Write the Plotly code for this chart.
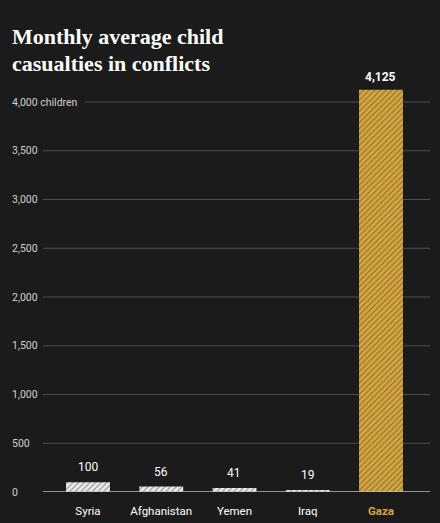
import plotly.graph_objects as go

# data
countries = ["Syria", "Afghanistan", "Yemen", "Iraq", "Gaza"]
casualties = [100, 56, 41, 19, 4125]
value_labels = ["100", "56", "41", "19", "<b>4,125</b>"]
grid_vals = [500, 1000, 1500, 2000, 2500, 3000, 3500, 4000]
grid_labels = ["500", "1,000", "1,500", "2,000", "2,500", "3,000", "3,500", "4,000 children"]

BG = "#1b1b1b"
GOLD = "#d9a83b"
SANS = "Roboto, Arial, sans-serif"
SERIF = "Liberation Serif, DejaVu Serif, serif"

bar_bg = [GOLD if c == "Gaza" else "#ececec" for c in countries]
bar_fg = ["#2e220b" if c == "Gaza" else "#1b1b1b" for c in countries]

fig = go.Figure()
fig.add_trace(go.Bar(
    x=list(range(len(countries))),
    y=casualties,
    width=0.6,
    marker=dict(
        color=bar_bg,
        line=dict(width=0),
        pattern=dict(shape="/", bgcolor=bar_bg, fgcolor=bar_fg, size=4, solidity=0.3),
    ),
    hoverinfo="skip",
))

# grid lines and y labels
shapes = []
annotations = []
for v, lab in zip(grid_vals, grid_labels):
    x0 = 0.108 if v == 4000 else 0.0
    shapes.append(dict(type="line", xref="paper", yref="y", x0=x0, x1=1, y0=v, y1=v,
                       layer="below", line=dict(color="#4f4f4f", width=1)))
    annotations.append(dict(xref="paper", yref="y", x=-0.085, y=v, text=lab,
                            xanchor="left", yanchor="middle", showarrow=False,
                            font=dict(family=SANS, size=10.5, color="#d0d0d0")))
# zero line
shapes.append(dict(type="line", xref="paper", yref="y", x0=0, x1=1, y0=0, y1=0,
                   line=dict(color="#bdbdbd", width=1.5)))
annotations.append(dict(xref="paper", yref="y", x=-0.085, y=0, text="0",
                        xanchor="left", yanchor="middle", showarrow=False,
                        font=dict(family=SANS, size=10.5, color="#d0d0d0")))

# value labels
for i, (v, lab) in enumerate(zip(casualties, value_labels)):
    annotations.append(dict(x=i, y=v, text=lab, xanchor="center", yanchor="bottom",
                            yshift=4 if v > 1000 else 6, showarrow=False,
                            font=dict(family=SANS, size=12, color="#ffffff")))

# title
annotations.append(dict(xref="paper", yref="paper", x=-0.085, y=1.055,
                        text="<b>Monthly average child</b>", xanchor="left", yanchor="middle",
                        showarrow=False, font=dict(family=SERIF, size=22, color="#ffffff")))
annotations.append(dict(xref="paper", yref="paper", x=-0.085, y=0.993,
                        text="<b>casualties in conflicts</b>", xanchor="left", yanchor="middle",
                        showarrow=False, font=dict(family=SERIF, size=22, color="#ffffff")))

tick_text = ["<b><span style='color:%s'>%s</span></b>" % (GOLD, c) if c == "Gaza" else c
             for c in countries]

fig.update_layout(
    width=440, height=523,
    margin=dict(l=43, r=10, t=60, b=31),
    paper_bgcolor=BG, plot_bgcolor=BG,
    showlegend=False,
    shapes=shapes,
    annotations=annotations,
    xaxis=dict(range=[-0.614, 4.669], tickvals=list(range(len(countries))), ticktext=tick_text,
               showgrid=False, zeroline=False, showline=False, ticks="",
               ticklabelstandoff=10, automargin=False,
               tickfont=dict(family=SANS, size=11.5, color="#ffffff")),
    yaxis=dict(range=[0, 4430.8], showgrid=False, zeroline=False, showticklabels=False,
               showline=False, automargin=False),
)

fig.write_html("out.html", config={"displayModeBar": False},
               post_script="document.body.style.margin='0';")
